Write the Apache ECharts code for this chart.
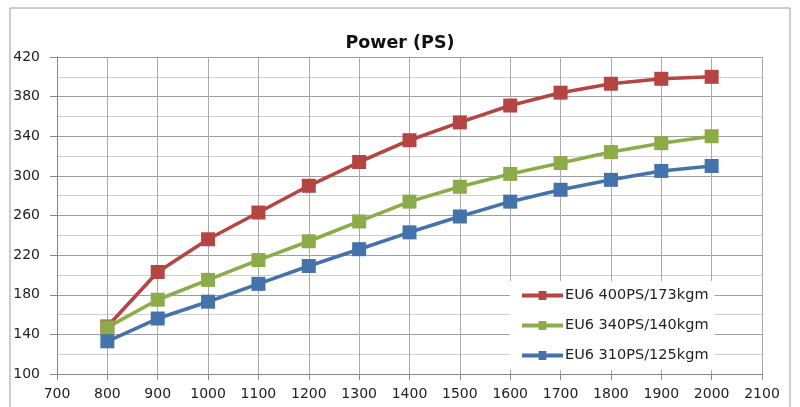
<!DOCTYPE html>
<html><head><meta charset="utf-8">
<script src="https://cdn.jsdelivr.net/npm/echarts@6/dist/echarts.min.js"></script>
<style>html,body{margin:0;padding:0;background:#fff}#c{width:800px;height:407px}</style>
</head><body><div id="c"></div>
<script>
const rpm = [800,900,1000,1100,1200,1300,1400,1500,1600,1700,1800,1900,2000];
const eu400 = [148,203,236,263,290,314,336,354,371,384,393,398,400];
const eu340 = [147,175,195,215,234,254,274,289,302,313,324,333,340];
const eu310 = [133,156,173,191,209,226,243,259,274,286,296,305,310];
const names = ['EU6 400PS/173kgm','EU6 340PS/140kgm','EU6 310PS/125kgm'];
const colors = ['#B44542','#8CAC4A','#4472AA'];
const font = 'DejaVu Sans';
const mk = (name, vals, color) => ({
  name, type:'line', data: rpm.map((x,i)=>[x, vals[i]]),
  symbol:'rect', symbolSize:14, lineStyle:{width:3.6,color}, itemStyle:{color},
  animation:false, z: 3
});
const chart = echarts.init(document.getElementById('c'));
chart.setOption({
  animation:false,
  title:{text:'Power (PS)', left:'center', top:29, textStyle:{fontFamily:font,fontSize:17.5,fontWeight:'bold',color:'#111'}},
  graphic:[{type:'rect', shape:{x:10,y:8,width:780,height:410}, style:{fill:'none',stroke:'#9a9a9a',lineWidth:1}, silent:true}],
  grid:{left:57,right:38,top:57,bottom:33},
  legend:{
    orient:'vertical', left:510, top:281, itemGap:15, itemWidth:41, itemHeight:9,
    backgroundColor:'#fff', padding:[7,6,7,12],
    textStyle:{fontFamily:font,fontSize:14.5,color:'#222',padding:[0,0,0,-3]},
    data: names.map((n,i)=>({name:n, icon:'path://M0,2.5H17V0H25V2.5H42V6.5H25V9H17V6.5H0Z'}))
  },
  xAxis:{type:'value',min:700,max:2100,interval:100,
    axisLine:{lineStyle:{color:'#888'}},
    axisTick:{show:true,length:6,lineStyle:{color:'#888'}},
    axisLabel:{fontFamily:font,fontSize:14,color:'#222',margin:13,formatter:v=>String(v)},
    splitLine:{show:true,lineStyle:{color:'#aaa',width:1}}},
  yAxis:{type:'value',min:100,max:420,interval:40,
    axisLine:{show:true,lineStyle:{color:'#888'}},
    axisTick:{show:true,length:7,lineStyle:{color:'#888'}},
    axisLabel:{fontFamily:font,fontSize:14,color:'#222',margin:17},
    splitLine:{show:true,lineStyle:{color:'#9e9e9e',width:1}},
    minorTick:{show:false,splitNumber:2},
    minorSplitLine:{show:true,lineStyle:{color:'#cfcfcf',width:1}}},
  series:[mk(names[0],eu400,colors[0]), mk(names[1],eu340,colors[1]), mk(names[2],eu310,colors[2])]
});
</script></body></html>
